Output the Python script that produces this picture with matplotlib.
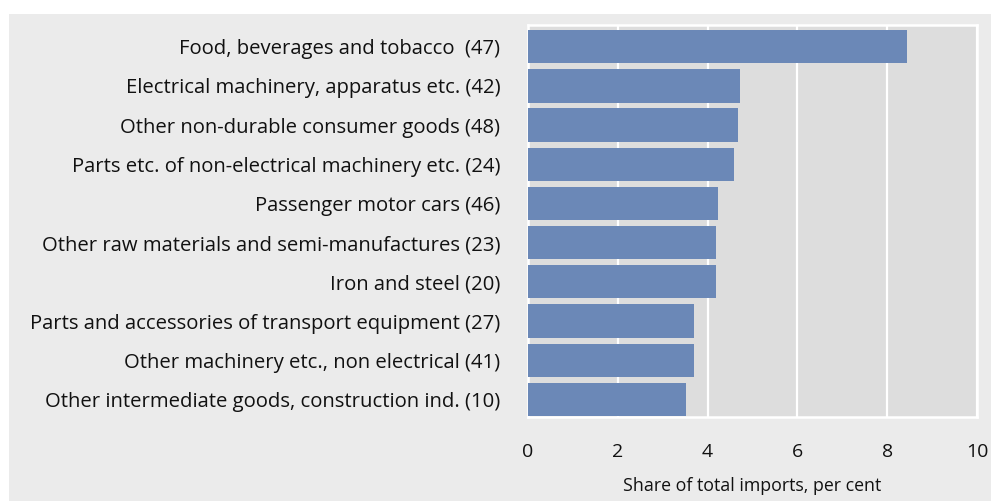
import matplotlib.pyplot as plt
from matplotlib.patches import Rectangle

categories = [
    'Food, beverages and tobacco  (47)',
    'Electrical machinery, apparatus etc. (42)',
    'Other non-durable consumer goods (48)',
    'Parts etc. of non-electrical machinery etc. (24)',
    'Passenger motor cars (46)',
    'Other raw materials and semi-manufactures (23)',
    'Iron and steel (20)',
    'Parts and accessories of transport equipment (27)',
    'Other machinery etc., non electrical (41)',
    'Other intermediate goods, construction ind. (10)',
]
shares = [8.44, 4.72, 4.68, 4.59, 4.23, 4.19, 4.19, 3.70, 3.70, 3.52]
xticks = [0, 2, 4, 6, 8, 10]

plt.rcParams['font.family'] = ['Open Sans', 'DejaVu Sans']

fig = plt.figure(figsize=(9.91, 5.01), dpi=100)
fig.patch.set_facecolor('white')
# grey panel behind the chart
fig.patches.append(Rectangle((9 / 991, 0), 1, 1 - 14 / 501, transform=fig.transFigure,
                             facecolor='#ebebeb', edgecolor='none', zorder=-10))

ax = fig.add_axes([528 / 991, 1 - 417 / 501, 449 / 991, 392 / 501])
ax.set_facecolor('#dddddd')
ypos = list(range(len(categories)))
ax.barh(ypos, shares, height=0.85, color='#6b88b7', zorder=3)
ax.set_xlim(0, 10)
ax.set_ylim(9.45, -0.555)
ax.set_xticks(xticks)
ax.set_xticklabels([str(t) for t in xticks])
ax.set_yticks(ypos)
ax.set_yticklabels(categories)
ax.grid(axis='x', color='white', linewidth=1.6, zorder=1)
for s in ax.spines.values():
    s.set_color('white')
    s.set_linewidth(1.8)
ax.tick_params(axis='both', length=0, colors='#111111')
ax.tick_params(axis='x', pad=19, labelsize=14)
ax.tick_params(axis='y', pad=20, labelsize=14.6)
ax.set_xlabel('Share of total imports, per cent', fontsize=12.8, color='#111111', labelpad=11)

fig.savefig('out.png', dpi=100)
